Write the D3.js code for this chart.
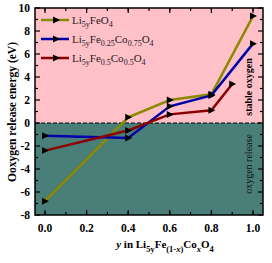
<!DOCTYPE html>
<html>
<head>
<meta charset="utf-8">
<script src="https://cdn.jsdelivr.net/npm/d3@7"></script>
<style>
  body { margin: 0; background: #fff; }
  text { font-family: "Liberation Serif", "DejaVu Serif", serif; }
</style>
</head>
<body>
<div id="chart"></div>
<script>
// values
const yFrac = [0.0, 0.4, 0.6, 0.8, 1.0];
const feO4 = [-6.8, 0.5, 2.0, 2.5, 9.3];
const fe25co75 = [-1.1, -1.3, 1.45, 2.4, 6.9];
const fe5co5X = [0.0, 0.4, 0.6, 0.8, 0.9];
const fe5co5 = [-2.4, -0.65, 0.75, 1.1, 3.4];
const xTicks = [0.0, 0.2, 0.4, 0.6, 0.8, 1.0];
const yTicks = [-8, -6, -4, -2, 0, 2, 4, 6, 8, 10];

const series = [
  {name: "fe", xs: yFrac, ys: feO4, color: "#8a8a00"},
  {name: "fe25", xs: yFrac, ys: fe25co75, color: "#0000a8"},
  {name: "fe5", xs: fe5co5X, ys: fe5co5, color: "#8b0000"}
];

var width = 272, height = 263;
var margin = {top: 8, right: 9, bottom: 48, left: 35};

var x = d3.scaleLinear().domain([-0.048, 1.048]).range([margin.left, width - margin.right]);
var y = d3.scaleLinear().domain([-8, 10]).range([height - margin.bottom, margin.top]);

var svg = d3.select("#chart").append("svg")
  .attr("width", width).attr("height", height);

// background regions
svg.append("rect")
  .attr("x", x.range()[0]).attr("y", y(10))
  .attr("width", x.range()[1] - x.range()[0]).attr("height", y(0) - y(10))
  .attr("fill", "#ffc0c8");
svg.append("rect")
  .attr("x", x.range()[0]).attr("y", y(0))
  .attr("width", x.range()[1] - x.range()[0]).attr("height", y(-8) - y(0))
  .attr("fill", "#4a7f79");

// zero line
svg.append("line")
  .attr("x1", x.range()[0]).attr("x2", x.range()[1])
  .attr("y1", y(0)).attr("y2", y(0))
  .attr("stroke", "black").attr("stroke-width", 1.2)
  .attr("stroke-dasharray", "4,2");

// ticks (inside, on all four sides)
var xMinor = d3.range(0, 1.01, 0.1);
var yMinor = d3.range(-7, 10, 2);
function tickLines(vals, len, isX) {
  vals.forEach(function (v) {
    if (isX) {
      svg.append("line").attr("x1", x(v)).attr("x2", x(v))
        .attr("y1", y(-8)).attr("y2", y(-8) - len).attr("stroke", "black").attr("stroke-width", 1.2);
      svg.append("line").attr("x1", x(v)).attr("x2", x(v))
        .attr("y1", y(10)).attr("y2", y(10) + len).attr("stroke", "black").attr("stroke-width", 1.2);
    } else {
      svg.append("line").attr("y1", y(v)).attr("y2", y(v))
        .attr("x1", x.range()[0]).attr("x2", x.range()[0] + len).attr("stroke", "black").attr("stroke-width", 1.2);
      svg.append("line").attr("y1", y(v)).attr("y2", y(v))
        .attr("x1", x.range()[1]).attr("x2", x.range()[1] - len).attr("stroke", "black").attr("stroke-width", 1.2);
    }
  });
}
tickLines(xMinor, 3, true);
tickLines(xTicks, 5, true);
tickLines(yMinor, 3, false);
tickLines(yTicks, 5, false);

// tick labels
svg.append("g").selectAll("text").data(xTicks).enter().append("text")
  .attr("x", d => x(d)).attr("y", y(-8) + 17)
  .attr("text-anchor", "middle").attr("font-size", 11.5).attr("font-weight", "bold")
  .text(d => d.toFixed(1));
svg.append("g").selectAll("text").data(yTicks).enter().append("text")
  .attr("x", x.range()[0] - 5).attr("y", d => y(d) + 4)
  .attr("text-anchor", "end").attr("font-size", 11.5).attr("font-weight", "bold")
  .text(d => d);

// lines and markers
var line = d3.line().x(d => x(d[0])).y(d => y(d[1]));
function tri(cx, cy) {
  return "M" + (cx - 3) + "," + (cy - 3.5) + "L" + (cx + 4) + "," + cy + "L" + (cx - 3) + "," + (cy + 3.5) + "Z";
}
series.forEach(function (s) {
  var pts = s.xs.map((v, i) => [v, s.ys[i]]);
  svg.append("path").datum(pts)
    .attr("d", line).attr("fill", "none")
    .attr("stroke", s.color).attr("stroke-width", 2.5);
  svg.append("g").selectAll("path").data(pts).enter().append("path")
    .attr("d", d => tri(x(d[0]), y(d[1])))
    .attr("fill", "black");
});

// frame
svg.append("rect")
  .attr("x", x.range()[0]).attr("y", y(10))
  .attr("width", x.range()[1] - x.range()[0]).attr("height", y(-8) - y(10))
  .attr("fill", "none").attr("stroke", "black").attr("stroke-width", 1.5);

// legend
var legY = [20, 39, 58];
var legText = [
  [["Li", 0], ["5y", 1], ["FeO", 0], ["4", 1]],
  [["Li", 0], ["5y", 1], ["Fe", 0], ["0.25", 1], ["Co", 0], ["0.75", 1], ["O", 0], ["4", 1]],
  [["Li", 0], ["5y", 1], ["Fe", 0], ["0.5", 1], ["Co", 0], ["0.5", 1], ["O", 0], ["4", 1]]
];
series.forEach(function (s, i) {
  svg.append("line").attr("x1", 41).attr("x2", 69).attr("y1", legY[i]).attr("y2", legY[i])
    .attr("stroke", s.color).attr("stroke-width", 2.5);
  svg.append("path").attr("d", tri(56, legY[i])).attr("fill", "black");
  var t = svg.append("text").attr("x", 72).attr("y", legY[i] + 4).attr("font-size", 11).attr("fill", "#222");
  legText[i].forEach(function (p) {
    t.append("tspan").attr("baseline-shift", p[1] ? "-35%" : null)
      .attr("font-size", p[1] ? 8 : 11).text(p[0]);
  });
});

// region labels
svg.append("text")
  .attr("transform", "translate(" + 252 + "," + 87 + ") rotate(-90)")
  .attr("text-anchor", "middle").attr("font-size", 10).attr("font-weight", "bold")
  .text("stable oxygen");
svg.append("text")
  .attr("transform", "translate(" + 252 + "," + 164 + ") rotate(-90)")
  .attr("text-anchor", "middle").attr("font-size", 10).attr("fill", "#111")
  .text("oxygen release");

// axis titles
svg.append("text")
  .attr("transform", "translate(" + 16 + "," + 112 + ") rotate(-90)")
  .attr("text-anchor", "middle").attr("font-size", 11.5).attr("font-weight", "bold")
  .text("Ooxygen release energy (eV)");

var xl = svg.append("text").attr("x", 165).attr("y", 248)
  .attr("text-anchor", "middle").attr("font-size", 11).attr("font-weight", "bold");
[["y", 0, "italic"], [" in Li", 0], ["5y", 1], ["Fe", 0], ["(1-", 1], ["x", 1, "italic"], [")", 1], ["Co", 0], ["x", 1, "italic"], ["O", 0], ["4", 1]]
  .forEach(function (p, i, arr) {
    var prevSub = i > 0 && arr[i - 1][1];
    var ts = xl.append("tspan").text(p[0])
      .attr("font-size", p[1] ? 8.5 : 11);
    if (p[2]) ts.attr("font-style", p[2]);
    if (p[1] && !prevSub) ts.attr("dy", 4);
    if (!p[1] && prevSub) ts.attr("dy", -4);
  });
</script>
</body>
</html>
